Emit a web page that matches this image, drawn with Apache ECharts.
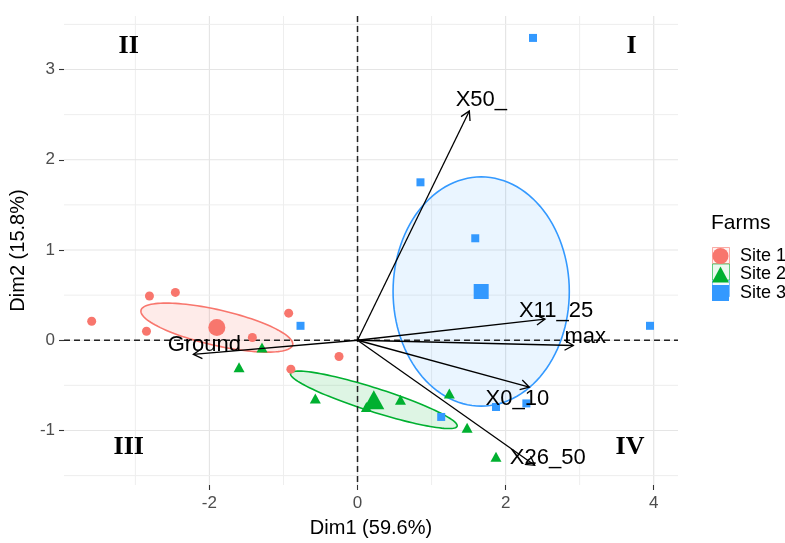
<!DOCTYPE html>
<html>
<head>
<meta charset="utf-8">
<script src="https://cdn.jsdelivr.net/npm/echarts@6/dist/echarts.min.js"></script>
<style>
  html, body { margin: 0; padding: 0; background: #ffffff; }
  #chart { width: 785px; height: 543px; }
</style>
</head>
<body>
<div id="chart"></div>
<script>
// ---- Individuals (PCA scores) per farm ----
const site1Dim1 = [-3.59, -2.81, -2.46, -2.85, -1.42, -0.93, -0.90, -0.25];
const site1Dim2 = [0.21, 0.49, 0.53, 0.10, 0.03, 0.30, -0.32, -0.18];
const site2Dim1 = [-1.60, -1.29, -0.57, 0.12, 0.58, 1.24, 1.48, 1.87];
const site2Dim2 = [-0.30, -0.08, -0.645, -0.74, -0.66, -0.59, -0.97, -1.29];
const site3Dim1 = [2.37, 0.85, 1.59, 3.95, -0.77, 1.13, 1.87, 2.28];
const site3Dim2 = [3.35, 1.75, 1.13, 0.16, 0.16, -0.85, -0.74, -0.70];

// Group centroids (Site 1, Site 2, Site 3)
const groupNames = ['Site 1', 'Site 2', 'Site 3'];
const groupMeanDim1 = [-1.90, 0.22, 1.67];
const groupMeanDim2 = [0.14, -0.66, 0.54];

// Confidence ellipses: two conjugate semi-axis vectors (Dim1, Dim2) around each centroid
const ellipseAxisA = [[1.024, -0.192], [1.125, -0.293], [1.19, 0]];
const ellipseAxisB = [[0.055, 0.192], [0.050, 0.125], [0, 1.27]];

// ---- Variables (loadings drawn as arrows) ----
const varNames = ['X50_', 'X11_25', 'max', 'X0_10', 'X26_50', 'Ground'];
const varDim1 = [1.510, 2.532, 2.914, 2.320, 2.393, -2.217];
const varDim2 = [2.54, 0.234, -0.058, -0.52, -1.386, -0.157];

// ---- Axis ticks ----
const xTicks = [-2, 0, 2, 4];
const yTicks = [-1, 0, 1, 2, 3];
const xMinorTicks = [-3, -1, 1, 3];
const yMinorTicks = [-1.5, -0.5, 0.5, 1.5, 2.5, 3.5];

// ---- Quadrant names ----
const quadrantNames = ['I', 'II', 'III', 'IV'];

// styling / placement
const groupColors = ['#F8766D', '#00B030', '#3399FF'];
const groupFills = ['rgba(248,118,109,0.15)', 'rgba(0,176,48,0.13)', 'rgba(51,153,255,0.10)'];
const groupSymbols = ['circle', 'triangle', 'rect'];
const pointSize = [9, [11, 10], 8];
const meanSize = [17, [21, 19], 15];
const varLabelOffset = [[12, -11], [11, -8], [12, -9], [-12, 12], [13, -7], [11, -9]];
const quadrantAnchor = [[3.70, 3.26], [-3.09, 3.26], [-3.09, -1.19], [3.68, -1.19]];
const FONT = '"Liberation Sans", Arial, Helvetica, sans-serif';

const siteDim1 = [site1Dim1, site2Dim1, site3Dim1];
const siteDim2 = [site1Dim2, site2Dim2, site3Dim2];

const chart = echarts.init(document.getElementById('chart'), null, { renderer: 'canvas' });

// light grid lines (major + minor), drawn through the axis scales
const gridData = []
  .concat(xTicks.map(v => [v, 0, 1]))
  .concat(xMinorTicks.map(v => [v, 0, 0]))
  .concat(yTicks.map(v => [v, 1, 1]))
  .concat(yMinorTicks.map(v => [v, 1, 0]));

function axisLineItem(params, api, dashed) {
  const v = api.value(0);
  const isY = api.value(1) === 1;
  const cs = params.coordSys;
  let shape;
  if (!isY) {
    const px = api.coord([v, 0])[0];
    shape = { x1: px, y1: cs.y, x2: px, y2: cs.y + cs.height };
  } else {
    const py = api.coord([0, v])[1];
    shape = { x1: cs.x, y1: py, x2: cs.x + cs.width, y2: py };
  }
  if (dashed) {
    return { type: 'line', shape, style: { stroke: '#222', lineWidth: 1.5, lineDash: [6, 4] } };
  }
  const major = api.value(2) === 1;
  return { type: 'line', shape, style: { stroke: major ? '#E5E5E5' : '#EEEEEE', lineWidth: major ? 1.2 : 1 } };
}

const series = [];

series.push({
  type: 'custom', name: 'grid', silent: true, z: 0,
  data: gridData,
  renderItem: (params, api) => axisLineItem(params, api, false)
});

series.push({
  type: 'custom', name: 'ellipses', silent: true, z: 1,
  data: groupNames.map((g, i) => [groupMeanDim1[i], groupMeanDim2[i], i]),
  renderItem: (params, api) => {
    const i = api.value(2);
    const cx = api.value(0), cy = api.value(1);
    const a = ellipseAxisA[i], b = ellipseAxisB[i];
    const pts = [];
    const n = 120;
    for (let k = 0; k < n; k++) {
      const t = 2 * Math.PI * k / n;
      const c = Math.cos(t), s = Math.sin(t);
      pts.push(api.coord([cx + a[0] * c + b[0] * s, cy + a[1] * c + b[1] * s]));
    }
    return {
      type: 'polygon', shape: { points: pts },
      style: { fill: groupFills[i], stroke: groupColors[i], lineWidth: 1.6 }
    };
  }
});

series.push({
  type: 'custom', name: 'zero', silent: true, z: 2,
  data: [[0, 0], [0, 1]],
  renderItem: (params, api) => axisLineItem(params, api, true)
});

groupNames.forEach((g, i) => {
  const pts = siteDim1[i].map((x, k) => [x, siteDim2[i][k]]);
  pts.push({ value: [groupMeanDim1[i], groupMeanDim2[i]], symbolSize: meanSize[i] });
  series.push({
    type: 'scatter', name: g, z: 3,
    symbol: groupSymbols[i], symbolSize: pointSize[i],
    itemStyle: { color: groupColors[i], opacity: 1 },
    emphasis: { disabled: true },
    data: pts
  });
});

series.push({
  type: 'custom', name: 'variables', silent: true, z: 5,
  data: varNames.map((n, i) => [varDim1[i], varDim2[i]]),
  renderItem: (params, api) => {
    const i = params.dataIndex;
    const o = api.coord([0, 0]);
    const p = api.coord([api.value(0), api.value(1)]);
    const ang = Math.atan2(p[1] - o[1], p[0] - o[0]);
    const L = 10, spread = Math.PI / 6;
    const h1 = [p[0] - L * Math.cos(ang - spread), p[1] - L * Math.sin(ang - spread)];
    const h2 = [p[0] - L * Math.cos(ang + spread), p[1] - L * Math.sin(ang + spread)];
    const off = varLabelOffset[i];
    return {
      type: 'group',
      children: [
        { type: 'line', shape: { x1: o[0], y1: o[1], x2: p[0], y2: p[1] }, style: { stroke: '#000', lineWidth: 1.3 } },
        { type: 'polyline', shape: { points: [h1, p, h2] }, style: { stroke: '#000', lineWidth: 1.3, fill: null } },
        { type: 'text', z2: 10, style: { text: varNames[i], x: p[0] + off[0], y: p[1] + off[1], fill: '#000',
          font: '22px ' + FONT, align: 'center', verticalAlign: 'middle' } }
      ]
    };
  }
});

series.push({
  type: 'custom', name: 'quadrants', silent: true, z: 6,
  data: quadrantAnchor.map((q, i) => [q[0], q[1]]),
  renderItem: (params, api) => {
    const p = api.coord([api.value(0), api.value(1)]);
    return {
      type: 'text',
      style: { text: quadrantNames[params.dataIndex], x: p[0], y: p[1], fill: '#000',
        font: 'bold 26px "Liberation Serif", "Times New Roman", serif', align: 'center', verticalAlign: 'middle' }
    };
  }
});

const option = {
  animation: false,
  backgroundColor: '#ffffff',
  textStyle: { fontFamily: FONT },
  title: {
    text: 'Farms', left: 711, top: 213, padding: 0,
    textStyle: { fontSize: 21, fontWeight: 'normal', color: '#000', fontFamily: FONT }
  },
  legend: {
    data: groupNames.map((g, i) => ({ name: g, icon: groupSymbols[i] })),
    orient: 'vertical', left: 712, top: 247, padding: 0,
    itemWidth: 17, itemHeight: 16, itemGap: 0.5,
    selectedMode: false,
    textStyle: { fontSize: 18, lineHeight: 16, color: '#000', fontFamily: FONT, padding: [0, 0, 0, 6] }
  },
  graphic: groupNames.map((g, i) => ({
    type: 'rect', z: -1, left: 712, top: 247 + i * 16.5,
    shape: { width: 17, height: 16 },
    style: { fill: groupFills[i], stroke: groupColors[i], lineWidth: 1, opacity: 0.6 }
  })),
  grid: { left: 64, right: 107, top: 16, bottom: 54, containLabel: false },
  xAxis: {
    type: 'value', min: -3.964, max: 4.328,
    name: 'Dim1 (59.6%)', nameLocation: 'middle', nameGap: 33,
    nameTextStyle: { fontSize: 20, color: '#000', fontFamily: FONT },
    axisLine: { show: false, onZero: false },
    splitLine: { show: false },
    axisTick: { show: true, customValues: xTicks, length: 5, lineStyle: { color: '#333', width: 1.1 } },
    axisLabel: { customValues: xTicks, color: '#4D4D4D', fontSize: 17, margin: 10, fontFamily: FONT }
  },
  yAxis: {
    type: 'value', min: -1.604, max: 3.593,
    name: 'Dim2 (15.8%)', nameLocation: 'middle', nameGap: 31,
    nameTextStyle: { fontSize: 20, color: '#000', fontFamily: FONT },
    axisLine: { show: false, onZero: false },
    splitLine: { show: false },
    axisTick: { show: true, customValues: yTicks, length: 5, lineStyle: { color: '#333', width: 1.1 } },
    axisLabel: { customValues: yTicks, color: '#4D4D4D', fontSize: 17, margin: 9, fontFamily: FONT }
  },
  series: series
};

chart.setOption(option);
</script>
</body>
</html>
